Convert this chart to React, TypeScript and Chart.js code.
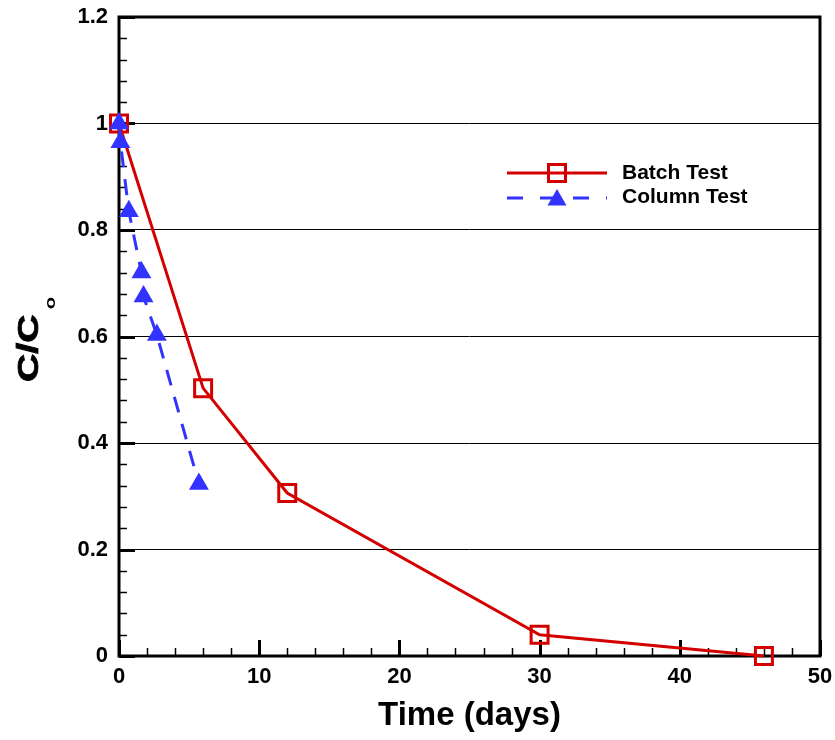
import React, { useEffect, useRef } from 'react';
import { Chart, registerables } from 'chart.js';

Chart.register(...registerables);

// ---- data ----
const batchTime = [0, 6, 12, 30, 46];
const batchConc = [1, 0.503, 0.306, 0.04, 0];
const columnTime = [0, 0.1, 0.7, 1.6, 1.75, 2.7, 5.7];
const columnConc = [1, 0.965, 0.835, 0.72, 0.675, 0.603, 0.323];
const seriesLabels = ['Batch Test', 'Column Test'];
const xTitle = 'Time (days)';
const yTitleMain = 'C/C';
const yTitleSub = 'o';
const xTicks = [0, 10, 20, 30, 40, 50];
const yTicks = [0, 0.2, 0.4, 0.6, 0.8, 1, 1.2];

const RED = '#d40000';
const BLUE = '#3333ff';
const FONT = 'Arial, "Liberation Sans", Helvetica, sans-serif';

const drawTriangle = (ctx: CanvasRenderingContext2D, x: number, y: number, r: number) => {
  let rad = 0;
  ctx.beginPath();
  for (let i = 0; i < 3; i++) {
    const px = x + Math.sin(rad) * r;
    const py = y - Math.cos(rad) * r;
    if (i === 0) ctx.moveTo(px, py);
    else ctx.lineTo(px, py);
    rad += (2 * Math.PI) / 3;
  }
  ctx.closePath();
};

const framePlugin = {
  id: 'frameTicks',
  beforeDatasetsDraw(chart: any) {
    const { ctx, chartArea: a, scales } = chart;
    const x = scales.x;
    const y = scales.y;
    ctx.save();
    ctx.strokeStyle = '#000';
    ctx.lineCap = 'butt';
    for (let i = 0; i <= 25; i++) {
      const v = i * 2;
      const major = v % 10 === 0;
      const px = Math.round(x.getPixelForValue(v)) + 0.5;
      ctx.lineWidth = major ? 3 : 1.5;
      ctx.beginPath();
      ctx.moveTo(px, a.bottom);
      ctx.lineTo(px, a.bottom - (major ? 16 : 8));
      ctx.stroke();
    }
    for (let i = 0; i <= 30; i++) {
      const v = i * 0.04;
      const major = i % 5 === 0;
      const py = Math.round(y.getPixelForValue(v)) + 0.5;
      ctx.lineWidth = major ? 3 : 1.5;
      ctx.beginPath();
      ctx.moveTo(a.left, py);
      ctx.lineTo(a.left + (major ? 16 : 8), py);
      ctx.stroke();
    }
    ctx.lineWidth = 3;
    ctx.strokeRect(a.left, a.top, a.right - a.left, a.bottom - a.top);
    ctx.restore();
  },
  afterDraw(chart: any) {
    const { ctx } = chart;
    ctx.save();
    ctx.fillStyle = '#000';
    ctx.strokeStyle = '#000';
    ctx.lineWidth = 0.8;
    ctx.translate(38, 382);
    ctx.rotate(-Math.PI / 2);
    ctx.scale(1.35, 1);
    ctx.font = `bold 29px ${FONT}`;
    ctx.textBaseline = 'alphabetic';
    ctx.textAlign = 'left';
    ctx.fillText(yTitleMain, 0, 0);
    ctx.strokeText(yTitleMain, 0, 0);
    const w = ctx.measureText(yTitleMain).width;
    ctx.font = `bold 15px ${FONT}`;
    ctx.fillText(yTitleSub, w + 4, 17);
    ctx.restore();

    ctx.save();
    const x0 = 507;
    const x1 = 607;
    const xm = 557;
    const yB = 173;
    const yC = 198;
    ctx.lineWidth = 3;
    ctx.strokeStyle = RED;
    ctx.beginPath();
    ctx.moveTo(x0, yB);
    ctx.lineTo(x1, yB);
    ctx.stroke();
    ctx.strokeRect(xm - 8.5, yB - 8.5, 17, 17);
    ctx.strokeStyle = BLUE;
    ctx.setLineDash([16, 17]);
    ctx.beginPath();
    ctx.moveTo(x0, yC);
    ctx.lineTo(x1, yC);
    ctx.stroke();
    ctx.setLineDash([]);
    ctx.fillStyle = BLUE;
    drawTriangle(ctx, xm, yC + 2, 11);
    ctx.fill();
    ctx.fillStyle = '#000';
    ctx.font = `bold 21px ${FONT}`;
    ctx.textBaseline = 'middle';
    ctx.textAlign = 'left';
    ctx.fillText(seriesLabels[0], 622, yB);
    ctx.fillText(seriesLabels[1], 622, yC - 1);
    ctx.restore();
  },
};

export default function App() {
  const canvasRef = useRef<HTMLCanvasElement | null>(null);

  useEffect(() => {
    const canvas = canvasRef.current;
    if (!canvas) return;
    const chart = new Chart(canvas, {
      type: 'line',
      data: {
        datasets: [
          {
            label: seriesLabels[0],
            data: batchTime.map((t, i) => ({ x: t, y: batchConc[i] })),
            borderColor: RED,
            borderWidth: 3,
            backgroundColor: 'rgba(0,0,0,0)',
            pointStyle: 'rect',
            pointRadius: 12,
            pointBorderWidth: 3,
            pointBorderColor: RED,
            pointBackgroundColor: 'rgba(0,0,0,0)',
            tension: 0,
            fill: false,
            clip: false,
            order: 1,
          },
          {
            label: seriesLabels[1],
            data: columnTime.map((t, i) => ({ x: t, y: columnConc[i] })),
            borderColor: BLUE,
            borderWidth: 3,
            borderDash: [16, 12],
            backgroundColor: BLUE,
            pointStyle: 'triangle',
            pointRadius: 11.5,
            pointBorderWidth: 0,
            pointBorderColor: BLUE,
            pointBackgroundColor: BLUE,
            tension: 0,
            fill: false,
            clip: false,
            order: 0,
          },
        ],
      },
      options: {
        animation: false,
        responsive: true,
        maintainAspectRatio: false,
        layout: { padding: { left: 0, right: 15, top: 17, bottom: 0 } },
        plugins: {
          legend: { display: false },
          tooltip: { enabled: false },
        },
        scales: {
          x: {
            type: 'linear',
            min: 0,
            max: 50,
            afterBuildTicks: (scale: any) => {
              scale.ticks = xTicks.map((v) => ({ value: v }));
            },
            afterFit: (scale: any) => {
              scale.height = 84;
              scale.paddingLeft = 0;
              scale.paddingRight = 0;
            },
            grid: { display: false, drawTicks: false },
            border: { display: false },
            ticks: {
              padding: 8,
              color: '#000',
              font: { family: FONT, size: 22, weight: 'bold' },
              maxRotation: 0,
              callback: (v: any) => String(v),
            },
            title: {
              display: true,
              text: xTitle,
              color: '#000',
              font: { family: FONT, size: 33, weight: 'bold' },
              padding: { top: 0, bottom: 4 },
            },
          },
          y: {
            type: 'linear',
            min: 0,
            max: 1.2,
            afterBuildTicks: (scale: any) => {
              scale.ticks = yTicks.map((v) => ({ value: v }));
            },
            afterFit: (scale: any) => {
              scale.width = 119;
              scale.paddingTop = 0;
              scale.paddingBottom = 0;
            },
            grid: { display: true, drawTicks: false, color: '#000', lineWidth: 1 },
            border: { display: false },
            ticks: {
              padding: 11,
              color: '#000',
              font: { family: FONT, size: 22, weight: 'bold' },
              callback: (v: any) => String(Number(Number(v).toFixed(1))),
            },
          },
        },
      },
      plugins: [framePlugin],
    } as any);
    return () => chart.destroy();
  }, []);

  return (
    <div style={{ position: 'fixed', left: 0, top: 0, width: 835, height: 740, background: '#fff' }}>
      <canvas ref={canvasRef} />
    </div>
  );
}
